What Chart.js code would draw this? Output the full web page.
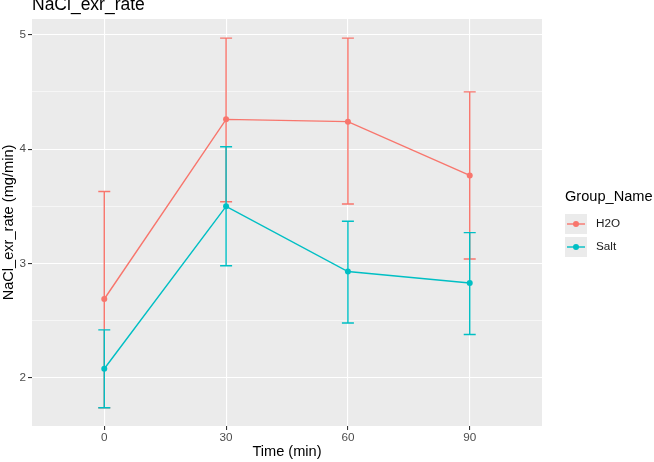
<!DOCTYPE html>
<html>
<head>
<meta charset="utf-8">
<script src="https://cdn.jsdelivr.net/npm/chart.js@4"></script>
<style>
  html, body { margin: 0; padding: 0; background: #fff; }
  #wrap { width: 654px; height: 462px; position: relative; }
</style>
</head>
<body>
<div id="wrap"><canvas id="chart" width="654" height="462"></canvas></div>
<script>
// values
const times = [0, 30, 60, 90];
const groups = ['H2O', 'Salt'];
const h2oMean = [2.69, 4.26, 4.24, 3.77];
const h2oLow = [1.74, 3.54, 3.52, 3.04];
const h2oHigh = [3.63, 4.97, 4.97, 4.50];
const saltMean = [2.08, 3.50, 2.93, 2.83];
const saltLow = [1.74, 2.98, 2.48, 2.38];
const saltHigh = [2.42, 4.02, 3.37, 3.27];
const xTicks = [0, 30, 60, 90];
const yTicks = [2, 2.5, 3, 3.5, 4, 4.5, 5];

const colors = ['#F8766D', '#00BFC4'];
const FONT = '"Liberation Sans", Arial, Helvetica, sans-serif';

const toPoints = (ys) => times.map((t, i) => ({ x: t, y: ys[i] }));

// ggplot-like panel, error bars, title and legend
const ggPlugin = {
  id: 'gg',
  beforeDraw(chart) {
    const { ctx, chartArea: a } = chart;
    ctx.save();
    ctx.fillStyle = '#EBEBEB';
    ctx.fillRect(a.left, a.top, a.right - a.left, a.bottom - a.top);
    ctx.restore();
  },
  beforeDatasetsDraw(chart) {
    const { ctx, scales: { x, y } } = chart;
    const bars = [[h2oLow, h2oHigh], [saltLow, saltHigh]];
    ctx.save();
    ctx.lineWidth = 1.4;
    bars.forEach(([lo, hi], g) => {
      ctx.strokeStyle = colors[g];
      times.forEach((t, i) => {
        const px = x.getPixelForValue(t);
        const p1 = y.getPixelForValue(lo[i]);
        const p2 = y.getPixelForValue(hi[i]);
        ctx.beginPath();
        ctx.moveTo(px, p1); ctx.lineTo(px, p2);
        ctx.moveTo(px - 6, p1); ctx.lineTo(px + 6, p1);
        ctx.moveTo(px - 6, p2); ctx.lineTo(px + 6, p2);
        ctx.stroke();
      });
    });
    ctx.restore();
  },
  afterDraw(chart) {
    const { ctx } = chart;
    ctx.save();
    // plot title, cut off at the top like the reference
    ctx.fillStyle = '#000';
    ctx.font = '17.5px ' + FONT;
    ctx.textBaseline = 'alphabetic';
    ctx.fillText('NaCl_exr_rate', 32, 9.5);

    // legend
    ctx.font = '14.6px ' + FONT;
    ctx.textBaseline = 'middle';
    ctx.fillText('Group_Name', 565, 197);
    ctx.font = '11.7px ' + FONT;
    groups.forEach((name, g) => {
      const top = 214 + g * 23;
      ctx.fillStyle = '#EBEBEB';
      ctx.fillRect(565, top, 22, 20);
      ctx.strokeStyle = colors[g];
      ctx.lineWidth = 1.4;
      ctx.beginPath();
      ctx.moveTo(567, top + 10); ctx.lineTo(585, top + 10);
      ctx.stroke();
      ctx.fillStyle = colors[g];
      ctx.beginPath();
      ctx.arc(576, top + 10, 3, 0, Math.PI * 2);
      ctx.fill();
      ctx.fillStyle = '#1A1A1A';
      ctx.fillText(name, 596, top + 10);
    });
    ctx.restore();
  }
};

new Chart(document.getElementById('chart'), {
  type: 'line',
  data: {
    datasets: [
      { label: groups[0], data: toPoints(h2oMean), borderColor: colors[0], backgroundColor: colors[0] },
      { label: groups[1], data: toPoints(saltMean), borderColor: colors[1], backgroundColor: colors[1] }
    ]
  },
  options: {
    responsive: false,
    animation: false,
    devicePixelRatio: 1,
    layout: { padding: { left: 0, top: 19, right: 112, bottom: 0 } },
    elements: {
      line: { borderWidth: 1.4, tension: 0 },
      point: { radius: 3, borderWidth: 0, hoverRadius: 3 }
    },
    plugins: {
      legend: { display: false },
      title: { display: false },
      tooltip: { enabled: false }
    },
    scales: {
      x: {
        type: 'linear',
        min: -17.8,
        max: 107.8,
        afterBuildTicks: (axis) => { axis.ticks = xTicks.map(v => ({ value: v })); },
        afterFit: (axis) => { axis.height = 36; },
        border: { display: false },
        grid: { color: '#FFFFFF', lineWidth: 1.1, tickColor: '#333333', tickLength: 4 },
        ticks: { color: '#4D4D4D', font: { family: FONT, size: 11.7 }, padding: 1, maxRotation: 0 },
        title: { display: true, text: 'Time (min)', color: '#000', font: { family: FONT, size: 14.6 }, padding: { top: 0, bottom: 1 } }
      },
      y: {
        min: 1.58,
        max: 5.137,
        afterBuildTicks: (axis) => { axis.ticks = yTicks.map(v => ({ value: v })); },
        afterFit: (axis) => { axis.width = 32; },
        border: { display: false },
        grid: {
          color: '#FFFFFF',
          lineWidth: (c) => (c.tick && c.tick.value % 1 === 0 ? 1.1 : 0.55),
          tickColor: (c) => (c.tick && c.tick.value % 1 === 0 ? '#333333' : 'rgba(0,0,0,0)'),
          tickLength: 4
        },
        ticks: {
          color: '#4D4D4D',
          font: { family: FONT, size: 11.7 },
          padding: 2,
          callback: (v) => (v % 1 === 0 ? String(v) : '')
        },
        title: { display: true, text: 'NaCl_exr_rate (mg/min)', color: '#000', font: { family: FONT, size: 14.6 }, padding: { top: 0, bottom: 0 } }
      }
    }
  },
  plugins: [ggPlugin]
});
</script>
</body>
</html>
